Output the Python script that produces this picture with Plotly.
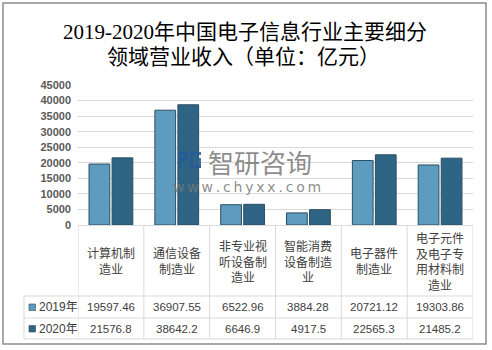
import plotly.graph_objects as go

categories = ["计算机制<br>造业", "通信设备<br>制造业", "非专业视<br>听设备制<br>造业",
              "智能消费<br>设备制造<br>业", "电子器件<br>制造业", "电子元件<br>及电子专<br>用材料制<br>造业"]
series_names = ["2019年", "2020年"]
values_2019 = [19597.46, 36907.55, 6522.96, 3884.28, 20721.12, 19303.86]
values_2020 = [21576.8, 38642.2, 6646.9, 4917.5, 22565.3, 21485.2]
labels_2019 = ["19597.46", "36907.55", "6522.96", "3884.28", "20721.12", "19303.86"]
labels_2020 = ["21576.8", "38642.2", "6646.9", "4917.5", "22565.3", "21485.2"]
y_ticks = [0, 5000, 10000, 15000, 20000, 25000, 30000, 35000, 40000, 45000]

W, H = 492, 350
L, R, T, B = 78, 19, 85, 125
PW, PH = W - L - R, H - T - B

def px(x):
    return (x - L) / PW

def py(y):
    return (H - B - y) / PH

colors = ["#5d9cbe", "#2f6584"]
idx = list(range(len(categories)))

fig = go.Figure()
for name, vals, col in zip(series_names, [values_2019, values_2020], colors):
    fig.add_trace(go.Bar(x=idx, y=vals, name=name, marker=dict(color=col, line=dict(color="#2b4e62", width=1))))

shapes = []
annotations = []
grid = "#d9d9d9"

def ann(x, y, text, font, xref="paper", xanchor="center", **kw):
    annotations.append(dict(x=x, y=y, xref=xref, yref="paper", text=text, showarrow=False,
                            xanchor=xanchor, yanchor="middle", font=font, **kw))

# outer border
shapes.append(dict(type="rect", xref="paper", yref="paper", x0=px(3), x1=px(486), y0=py(344), y1=py(3),
                   line=dict(color="#8c8c8c", width=1.5), layer="below"))
# table lines
for yy in [296, 318, 339]:
    shapes.append(dict(type="line", xref="paper", yref="paper", x0=px(24), x1=1, y0=py(yy), y1=py(yy),
                       line=dict(color=grid, width=1)))
shapes.append(dict(type="line", xref="paper", yref="paper", x0=px(24), x1=px(24), y0=py(296), y1=py(339),
                   line=dict(color=grid, width=1)))
for i in range(len(categories) + 1):
    shapes.append(dict(type="line", xref="x", yref="paper", x0=i - 0.5, x1=i - 0.5, y0=0, y1=py(339),
                       line=dict(color=grid, width=1)))

txt = "#404040"
for i, c in enumerate(categories):
    ann(i, py(260.5), c, dict(family="Noto Sans CJK SC", size=12, color=txt), xref="x", align="center")
    ann(i, py(307), labels_2019[i], dict(family="Liberation Sans", size=11.5, color=txt), xref="x")
    ann(i, py(328.5), labels_2020[i], dict(family="Liberation Sans", size=11.5, color=txt), xref="x")

for name, col, yy in zip(series_names, colors, [307, 328.5]):
    shapes.append(dict(type="rect", xref="paper", yref="paper", x0=px(29), x1=px(35.5), y0=py(yy + 3.5), y1=py(yy - 3),
                       fillcolor=col, line=dict(color="#2b4e62", width=0.6)))
    ann(px(37), py(yy), name, dict(family="Liberation Sans, Noto Sans CJK SC", size=12, color=txt), xanchor="left")

# title
tf = dict(family="Liberation Serif, Noto Sans CJK SC", size=21, color="#000000")
ann(px(245), py(32), "2019-2020年中国电子信息行业主要细分", tf)
ann(px(243), py(57), "领域营业收入（单位：亿元）", tf)
# watermark
wm = "rgba(120,120,120,0.85)"
ann(px(260), py(161), "智研咨询", dict(family="Noto Sans CJK SC", size=26, color=wm))
ann(px(247), py(187), "w\u2009w\u2009w\u2009.\u2009c\u2009h\u2009y\u2009x\u2009x\u2009.\u2009c\u2009o\u2009m",
    dict(family="DejaVu Sans", size=14, color=wm))
# watermark logo (simple blocks)
logo = "rgba(40,90,150,0.85)"
for (x0, x1, y0, y1) in [(178, 181, 152, 168), (178, 188, 152, 155), (185, 188, 152, 161), (181, 188, 158, 161),
                         (190, 201, 152, 155), (190, 193, 152, 168), (190, 201, 165, 168), (198, 201, 158, 168)]:
    shapes.append(dict(type="rect", xref="paper", yref="paper", x0=px(x0), x1=px(x1), y0=py(y1), y1=py(y0),
                       fillcolor=logo, line=dict(width=0)))

fig.update_layout(
    width=W, height=H, margin=dict(l=L, r=R, t=T, b=B),
    paper_bgcolor="white", plot_bgcolor="white",
    barmode="group", bargap=0.3, bargroupgap=0.1, showlegend=False,
    shapes=shapes, annotations=annotations,
    xaxis=dict(range=[-0.5, len(categories) - 0.5], showticklabels=False, showgrid=False,
               showline=True, linecolor=grid, zeroline=False, fixedrange=True),
    yaxis=dict(range=[0, 45000], tickvals=y_ticks, ticktext=[str(v) for v in y_ticks],
               showgrid=True, gridcolor=grid, zeroline=False, showline=False, ticklabelstandoff=6,
               tickfont=dict(family="Liberation Sans", size=11, color="#595959", weight="bold")),
)
fig.write_html("out.html")
